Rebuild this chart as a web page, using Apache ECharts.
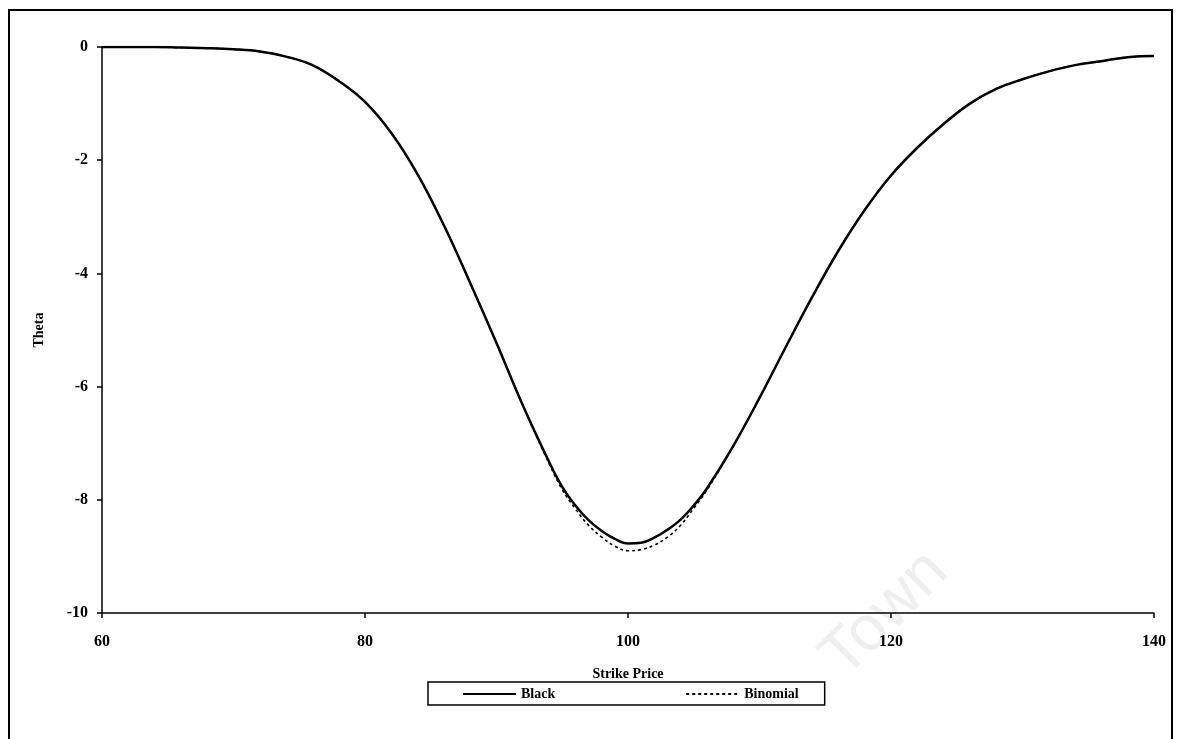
<!DOCTYPE html>
<html>
<head>
<meta charset="utf-8">
<script src="https://cdn.jsdelivr.net/npm/echarts@6/dist/echarts.min.js"></script>
<style>
  html, body { margin: 0; padding: 0; background: #ffffff; }
  #chart { width: 1181px; height: 739px; }
</style>
</head>
<body>
<div id="chart"></div>
<script>
// Strike prices (x) and option theta under the two pricing models
const strikes = [60, 62, 64, 66, 68, 70, 72, 74, 76, 78, 80, 82, 84, 86, 88, 90, 92, 94, 95, 96,
                 97, 98, 99, 100, 101, 102, 103, 104, 105, 106, 108, 110, 112, 114, 116, 118, 120,
                 122, 124, 126, 128, 130, 132, 134, 136, 138, 140];
const blackTheta = [0, 0, 0, -0.01, -0.02, -0.04, -0.08, -0.17, -0.32, -0.6, -0.97, -1.52, -2.25,
                    -3.15, -4.17, -5.23, -6.33, -7.33, -7.77, -8.1, -8.36, -8.55, -8.69, -8.77,
                    -8.76, -8.67, -8.53, -8.35, -8.1, -7.8, -7.05, -6.2, -5.3, -4.42, -3.6, -2.88,
                    -2.27, -1.78, -1.36, -1.0, -0.74, -0.57, -0.43, -0.32, -0.25, -0.18, -0.16];
const binomialTheta = [0, 0, 0, -0.01, -0.02, -0.04, -0.08, -0.17, -0.32, -0.6, -0.97, -1.52, -2.25,
                       -3.15, -4.17, -5.23, -6.33, -7.36, -7.82, -8.16, -8.45, -8.66, -8.82, -8.9,
                       -8.88, -8.8, -8.66, -8.45, -8.15, -7.83, -7.05, -6.2, -5.3, -4.42, -3.6, -2.88,
                       -2.27, -1.78, -1.36, -1.0, -0.74, -0.57, -0.43, -0.32, -0.25, -0.18, -0.16];
const xTicks = { min: 60, max: 140, step: 20 };
const yTicks = { min: -10, max: 0, step: 2 };

const serif = '"Liberation Serif", "DejaVu Serif", serif';
const pairs = (ys) => strikes.map((x, i) => [x, ys[i]]);

const chart = echarts.init(document.getElementById('chart'), null, { renderer: 'canvas' });
chart.setOption({
  backgroundColor: '#ffffff',
  animation: false,
  grid: { left: 102, right: 27, top: 47, bottom: 126, containLabel: false },
  xAxis: {
    type: 'value',
    min: xTicks.min, max: xTicks.max, interval: xTicks.step,
    name: 'Strike Price',
    nameLocation: 'middle',
    nameGap: 54,
    nameTextStyle: { fontFamily: serif, fontWeight: 'bold', fontSize: 14, color: '#000' },
    axisLine: { show: true, onZero: false, lineStyle: { color: '#000', width: 1.5 } },
    axisTick: { show: true, inside: false, length: 5, lineStyle: { color: '#000', width: 1.5 } },
    axisLabel: { fontFamily: serif, fontWeight: 'bold', fontSize: 16, color: '#000', margin: 21 },
    splitLine: { show: false }
  },
  yAxis: {
    type: 'value',
    min: yTicks.min, max: yTicks.max, interval: yTicks.step,
    name: 'Theta',
    nameLocation: 'middle',
    nameRotate: 90,
    nameGap: 56,
    nameTextStyle: { fontFamily: serif, fontWeight: 'bold', fontSize: 14, color: '#000' },
    axisLine: { show: true, onZero: false, lineStyle: { color: '#000', width: 1.5 } },
    axisTick: { show: true, inside: false, length: 5, lineStyle: { color: '#000', width: 1.5 } },
    axisLabel: { fontFamily: serif, fontWeight: 'bold', fontSize: 16, color: '#000', margin: 14 },
    splitLine: { show: false }
  },
  legend: {
    left: 428, top: 682,
    padding: [5, 26, 4, 34],
    itemGap: 130,
    itemWidth: 53, itemHeight: 14,
    borderColor: '#000', borderWidth: 1.5,
    itemStyle: { opacity: 0 },
    textStyle: { fontFamily: serif, fontWeight: 'bold', fontSize: 14, color: '#000' },
    data: ['Black', 'Binomial']
  },
  series: [
    {
      name: 'Black',
      type: 'line',
      data: pairs(blackTheta),
      smooth: 0.4,
      symbol: 'none',
      lineStyle: { color: '#000', width: 2.5 },
      itemStyle: { color: '#000' },
      z: 2
    },
    {
      name: 'Binomial',
      type: 'line',
      data: pairs(binomialTheta),
      smooth: 0.4,
      symbol: 'none',
      lineStyle: { color: '#000', width: 1.6, type: [3, 3] },
      itemStyle: { color: '#000' },
      z: 3
    }
  ],
  graphic: [
    {
      type: 'rect',
      shape: { x: 9, y: 10, width: 1163, height: 740 },
      style: { fill: 'none', stroke: '#000', lineWidth: 2 },
      silent: true
    },
    {
      type: 'text',
      x: 855, y: 690,
      rotation: Math.PI / 4,
      style: {
        text: 'Town',
        fontFamily: '"Liberation Sans", "DejaVu Sans", sans-serif',
        fontSize: 64,
        fill: '#efefef',
        textVerticalAlign: 'bottom'
      },
      z: -1,
      silent: true
    }
  ]
});
</script>
</body>
</html>
